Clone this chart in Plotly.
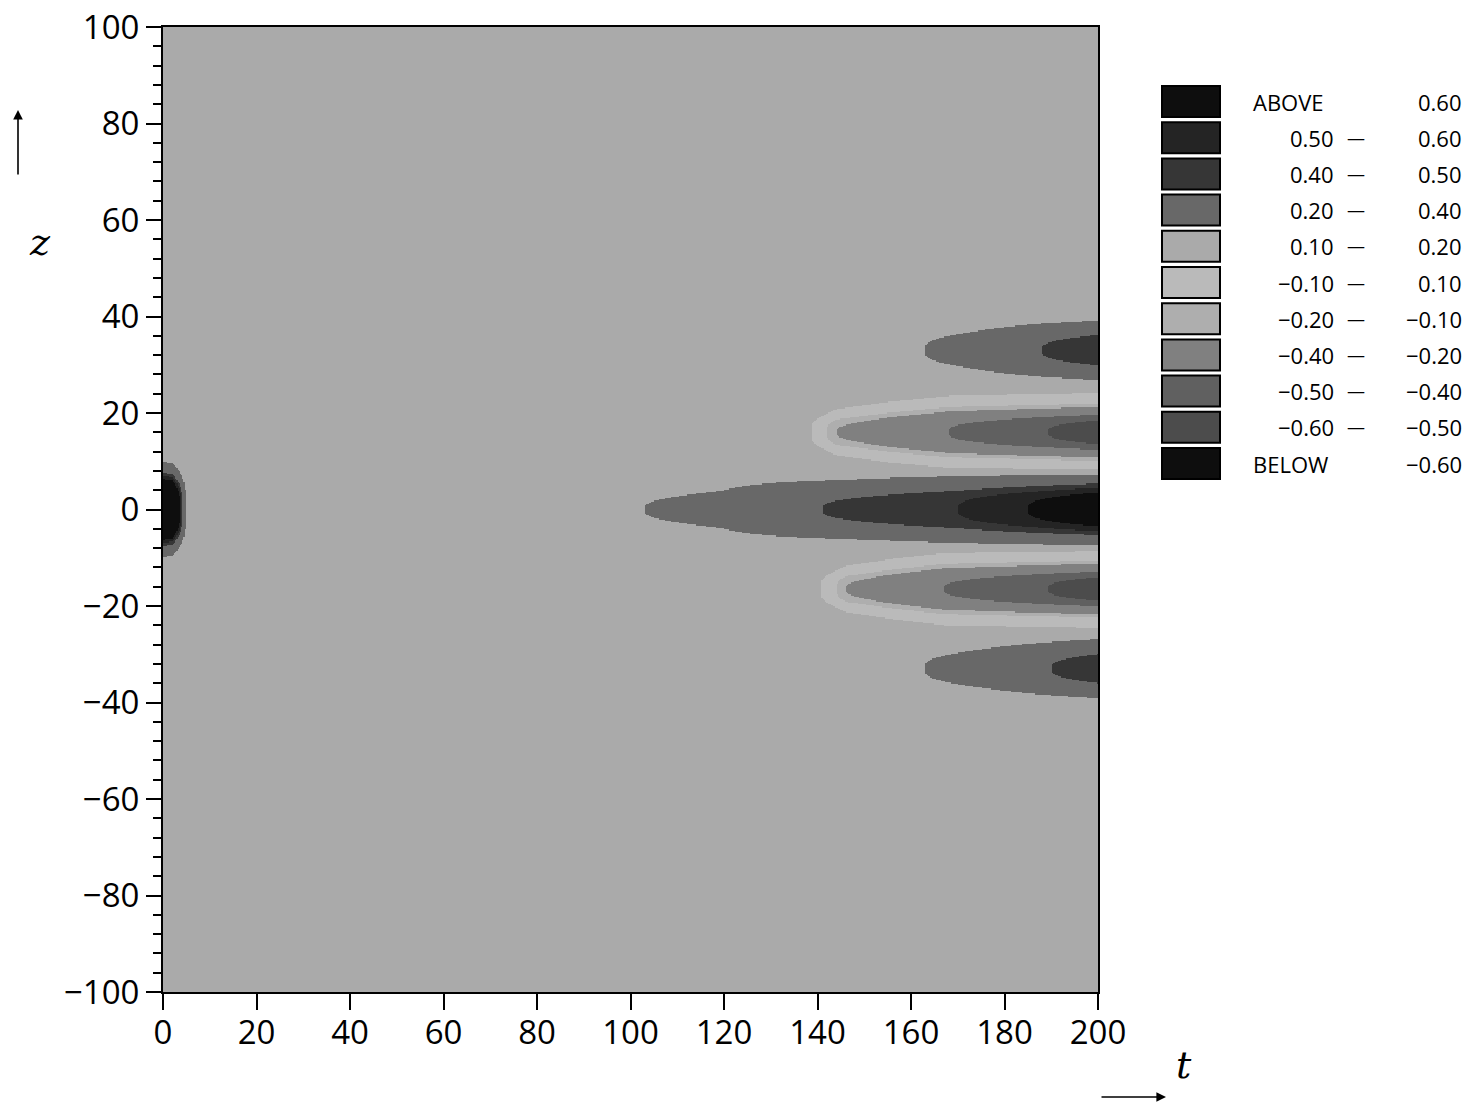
import numpy as np
import plotly.graph_objects as go

# ---------------- data ----------------
# legend band edges (contour levels)
levels = [-0.60, -0.50, -0.40, -0.20, -0.10, 0.10, 0.20, 0.40, 0.50, 0.60]
# fill colour per band, from "BELOW -0.60" up to "ABOVE 0.60"
band_colors = ["#0e0e0e", "#4c4c4c", "#606060", "#808080", "#aeaeae", "#bababa",
               "#aaaaaa", "#686868", "#363636", "#242424", "#0e0e0e"]
# legend rows, top to bottom
legend_left = ["ABOVE", "0.50", "0.40", "0.20", "0.10", "−0.10", "−0.20",
               "−0.40", "−0.50", "−0.60", "BELOW"]
legend_right = ["0.60", "0.60", "0.50", "0.40", "0.20", "0.10", "−0.10",
                "−0.20", "−0.40", "−0.50", "−0.60"]
legend_dash = [False, True, True, True, True, True, True, True, True, True, False]

x_ticks = [0, 20, 40, 60, 80, 100, 120, 140, 160, 180, 200]
y_ticks = [-100, -80, -60, -40, -20, 0, 20, 40, 60, 80, 100]

# background level of the field (lies in the 0.10 - 0.20 band)
background_level = 0.15
# lobes of the field u(z, t): centre z, sign, and amplitude / half-width knots in t
lobe_z = [0.0, 0.0, 16.0, -16.5, 33.0, -33.0]
lobe_sign = [1, 1, -1, -1, 1, 1]
lobe_t = [
    [0.0, 2.0, 3.5, 5.0],
    [80, 103, 120, 141, 170, 185, 200],
    [138, 141, 144, 155, 168, 185, 200],
    [140, 143, 146, 156, 167, 185, 200],
    [150, 163, 175, 188, 200],
    [150, 163, 176, 190, 200],
]
lobe_amp = [
    [1.0, 0.9, 0.5, 0.0],
    [0.0, 0.05, 0.077, 0.25, 0.35, 0.45, 0.565],
    [0.0, 0.2, 0.35, 0.45, 0.55, 0.63, 0.70],
    [0.0, 0.2, 0.35, 0.45, 0.55, 0.63, 0.70],
    [0.0, 0.05, 0.119, 0.25, 0.32],
    [0.0, 0.05, 0.119, 0.25, 0.31],
]
lobe_width = [
    [6.8, 6.8, 6.0, 5.0],
    [4.0, 4.2, 5.2, 5.1, 5.6, 5.69, 5.73],
    [2.5, 3.0, 3.8, 4.8, 5.6, 5.75, 5.87],
    [2.5, 3.0, 3.8, 4.8, 5.6, 5.75, 5.87],
    [3.5, 3.5, 4.3, 4.7, 5.04],
    [3.5, 3.5, 4.3, 4.7, 5.04],
]
profile_power = 3.0

# ---------------- build the gridded field ----------------
t_grid = np.linspace(0, 200, 801)
z_grid = np.linspace(-100, 100, 801)
T, Z = np.meshgrid(t_grid, z_grid)
field = np.full_like(T, background_level)
for zc, sg, tk, ak, sk in zip(lobe_z, lobe_sign, lobe_t, lobe_amp, lobe_width):
    A = np.interp(t_grid, tk, ak, left=0.0, right=ak[-1])
    S = np.interp(t_grid, tk, sk, left=sk[0], right=sk[-1])
    field += sg * A[None, :] * np.exp(-(np.abs(Z - zc) / S[None, :]) ** profile_power)
band_index = np.searchsorted(np.array(levels), field).astype(float)

nb = len(band_colors)
colorscale = []
for i, c in enumerate(band_colors):
    colorscale.append([i / nb, c])
    colorscale.append([(i + 1) / nb, c])

fig = go.Figure()
fig.add_trace(go.Heatmap(
    x=t_grid, y=z_grid, z=band_index,
    zmin=-0.5, zmax=nb - 0.5, colorscale=colorscale,
    showscale=False, hoverinfo="skip",
))

W, H = 1473, 1107
L, R, TOP, B = 163, 1098, 27, 992


def px(x):
    return (x - L) / (R - L)


def py(y):
    return (B - y) / (B - TOP)


tick_font = dict(family="Open Sans", size=33, color="black")
fig.update_xaxes(
    range=[0, 200], tickvals=x_ticks, ticks="outside", ticklen=16, tickwidth=1.5,
    tickcolor="black", showline=True, linecolor="black", linewidth=2, mirror=True,
    showgrid=False, zeroline=False, tickfont=tick_font, ticklabelstandoff=-6,
)
fig.update_yaxes(
    range=[-100, 100], tickvals=y_ticks, ticks="outside", ticklen=15, tickwidth=1.5,
    tickcolor="black", showline=True, linecolor="black", linewidth=2, mirror=True,
    showgrid=False, zeroline=False, tickfont=tick_font,
    minor=dict(dtick=4, ticks="outside", ticklen=8, tickwidth=1.5, tickcolor="black"),
)

shapes = []
annotations = []
legend_font = dict(family="Open Sans", size=22, color="black")
# legend
row_top0 = 86
row_step = 36.2
box_h = 31
for i in range(nb):
    band = nb - 1 - i
    y0 = row_top0 + i * row_step
    y1 = y0 + box_h
    yc = (y0 + y1) / 2
    shapes.append(dict(type="rect", xref="paper", yref="paper",
                       x0=px(1162), x1=px(1220), y0=py(y1), y1=py(y0),
                       fillcolor=band_colors[band], line=dict(color="black", width=2)))
    lab = legend_left[i]
    if lab in ("ABOVE", "BELOW"):
        annotations.append(dict(x=px(1251), y=py(yc), xref="paper", yref="paper",
                                text=lab, showarrow=False, xanchor="left", yanchor="middle",
                                font=legend_font))
    else:
        annotations.append(dict(x=px(1336), y=py(yc), xref="paper", yref="paper",
                                text=lab, showarrow=False, xanchor="right", yanchor="middle",
                                font=legend_font))
    if legend_dash[i]:
        annotations.append(dict(x=px(1356), y=py(yc), xref="paper", yref="paper",
                                text="—", showarrow=False, xanchor="center", yanchor="middle",
                                font=dict(family="Open Sans", size=18, color="black")))
    annotations.append(dict(x=px(1464), y=py(yc), xref="paper", yref="paper",
                            text=legend_right[i], showarrow=False, xanchor="right",
                            yanchor="middle", font=legend_font))

# axis labels with arrows
annotations.append(dict(x=px(40), y=py(242), xref="paper", yref="paper", text="z",
                        showarrow=False, xanchor="center", yanchor="middle",
                        font=dict(family="DejaVu Serif", size=38, color="black",
                                  style="italic")))
annotations.append(dict(x=px(1184), y=py(1065), xref="paper", yref="paper", text="t",
                        showarrow=False, xanchor="center", yanchor="middle",
                        font=dict(family="DejaVu Serif", size=38, color="black",
                                  style="italic")))
annotations.append(dict(x=px(18), y=py(110), xref="paper", yref="paper", text="",
                        ax=0, ay=66, axref="pixel", ayref="pixel",
                        showarrow=True, arrowhead=2, arrowsize=1.2, arrowwidth=1.6,
                        arrowcolor="black"))
annotations.append(dict(x=px(1166), y=py(1097), xref="paper", yref="paper", text="",
                        ax=-66, ay=0, axref="pixel", ayref="pixel",
                        showarrow=True, arrowhead=2, arrowsize=1.2, arrowwidth=1.6,
                        arrowcolor="black"))

fig.update_layout(
    width=W, height=H,
    margin=dict(l=L, r=W - R, t=TOP, b=H - B, autoexpand=False),
    paper_bgcolor="white", plot_bgcolor="white",
    shapes=shapes, annotations=annotations, showlegend=False,
)

fig.write_html("out.html", config={"displayModeBar": False},
               post_script="document.body.style.margin='0';document.body.style.overflow='hidden';")
